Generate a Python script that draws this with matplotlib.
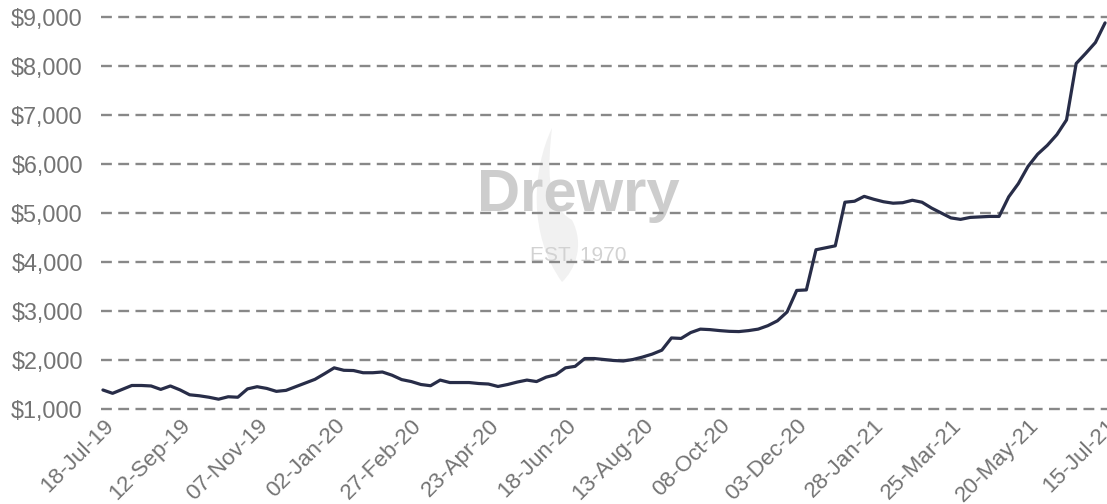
import datetime as dt
import matplotlib
matplotlib.use("Agg")
import matplotlib.pyplot as plt
from matplotlib.ticker import FuncFormatter
from matplotlib.path import Path
from matplotlib.patches import PathPatch

# Drewry World Container Index, composite, USD per 40ft container, weekly
start_date = dt.date(2019, 7, 18)
wci_values = [
    1388, 1320, 1400, 1480, 1480, 1470, 1400, 1470, 1390, 1290,
    1270, 1240, 1200, 1250, 1240, 1410, 1455, 1420, 1360, 1380,
    1455, 1530, 1605, 1720, 1840, 1790, 1785, 1740, 1740, 1755,
    1690, 1600, 1560, 1500, 1475, 1590, 1540, 1540, 1540, 1520,
    1510, 1460, 1500, 1550, 1590, 1560, 1650, 1700, 1840, 1870,
    2030, 2030, 2010, 1990, 1980, 2010, 2060, 2120, 2200, 2450,
    2440, 2560, 2630, 2620, 2600, 2585, 2580, 2600, 2630, 2700,
    2800, 2980, 3420, 3430, 4250, 4290, 4330, 5220, 5240, 5340,
    5280, 5230, 5200, 5210, 5260, 5220, 5100, 5000, 4900, 4870,
    4910, 4920, 4930, 4930, 5330, 5600, 5950, 6200, 6380, 6600,
    6900, 8050, 8260, 8480, 8880,
]
weeks = list(range(len(wci_values)))
tick_every = 8
tick_weeks = weeks[::tick_every]
tick_labels = [
    (start_date + dt.timedelta(weeks=w)).strftime("%d-%b-%y") for w in tick_weeks
]
y_ticks = [1000, 2000, 3000, 4000, 5000, 6000, 7000, 8000, 9000]

label_font = "Liberation Sans"
label_color = "#737373"

W, H = 1107, 504
fig = plt.figure(figsize=(W / 100, H / 100), dpi=100)
ax_left, ax_right, ax_top, ax_bottom = 101, 1107, 10, 415
ax = fig.add_axes([ax_left / W, 1 - ax_bottom / H,
                   (ax_right - ax_left) / W, (ax_bottom - ax_top) / H])

ax.set_xlim(-0.2, 104.2)
ax.set_ylim(1000 - 6 / 49 * 1000, 9000 + 7 / 49 * 1000)

for v in y_ticks:
    ax.axhline(v, color="#888888", lw=1.7, linestyle=(0, (4.6, 2.7)),
               zorder=1)


def frac(px, py):
    """Figure pixel position (from top-left) to axes fraction."""
    return ((px - ax_left) / (ax_right - ax_left),
            (ax_bottom - py) / (ax_bottom - ax_top))


# faint flame emblem behind the wordmark
flame_px = [(562, 282), (528, 235), (532, 170), (552, 128),
            (548, 165), (545, 205), (572, 220),
            (585, 245), (575, 270), (562, 282)]
flame_codes = [Path.MOVETO, Path.CURVE4, Path.CURVE4, Path.CURVE4,
               Path.CURVE4, Path.CURVE4, Path.CURVE4,
               Path.CURVE4, Path.CURVE4, Path.CURVE4]
flame = Path([frac(*p) for p in flame_px], flame_codes)
ax.add_patch(PathPatch(flame, transform=ax.transAxes, facecolor="#f1f1f1",
                       edgecolor="none", zorder=0))

# watermark wordmark
ax.text(*frac(578, 196), "Drewry", transform=ax.transAxes, ha="center",
        va="center", fontsize=43, fontweight="bold", color="#cdcdcd",
        family="Liberation Sans", zorder=0.5)
ax.text(*frac(578, 256), "EST. 1970", transform=ax.transAxes, ha="center",
        va="center", fontsize=15, color="#d2d2d2", family="Liberation Sans",
        zorder=0.5)

ax.plot(weeks, wci_values, color="#282d48", lw=2.3, solid_joinstyle="round",
        solid_capstyle="round", zorder=3)

ax.set_yticks(y_ticks)
ax.yaxis.set_major_formatter(FuncFormatter(lambda v, _: f"${v:,.0f}"))
ax.set_xticks(tick_weeks)
ax.set_xticklabels(tick_labels, rotation=45, ha="right",
                   rotation_mode="anchor")

ax.tick_params(axis="y", length=0, labelsize=16.8, labelcolor=label_color,
               pad=13)
ax.tick_params(axis="x", length=0, labelsize=16.2, labelcolor=label_color,
               pad=0)
for lbl in ax.get_xticklabels() + ax.get_yticklabels():
    lbl.set_family(label_font)

for s in ax.spines.values():
    s.set_visible(False)

fig.savefig("out.png", dpi=100, facecolor="white")
